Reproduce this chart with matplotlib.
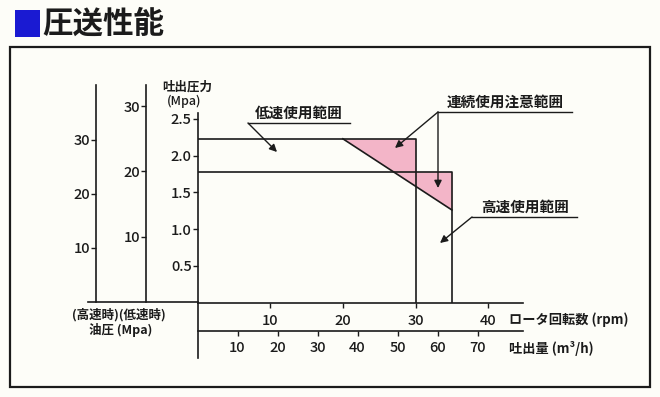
import numpy as np
import matplotlib
matplotlib.use("Agg")
import matplotlib.pyplot as plt
from matplotlib.patches import Rectangle

plt.rcParams['font.family'] = ['Noto Sans CJK JP', 'DejaVu Sans']

# ---------------- data ----------------
title = "圧送性能"
rpm_ticks = [10, 20, 30, 40]
flow_ticks = [10, 20, 30, 40, 50, 60, 70]
pressure_ticks = [0.5, 1.0, 1.5, 2.0, 2.5]
oil_high_ticks = [10, 20, 30]
oil_low_ticks = [10, 20, 30]

low_speed_rpm = [0, 30, 30]          # 低速使用範囲 boundary
low_speed_p = [2.23, 2.23, 0]
high_speed_rpm = [0, 35, 35]         # 高速使用範囲 boundary
high_speed_p = [1.78, 1.78, 0]
caution_rpm = [20, 35]               # 連続使用注意 boundary line
caution_p = [2.23, 1.26]

label_low = "低速使用範囲"
label_caution = "連続使用注意範囲"
label_high = "高速使用範囲"

# ---------------- layout helpers ----------------
W, H = 660, 397
def rect(l, t, r, b):
    return [l / W, 1 - b / H, (r - l) / W, (b - t) / H]

ink = '#1b1b1b'
pink = '#F3B5C8'
bg = '#FDFDF8'
lw = 1.2
px = 0.72  # points per pixel

fig = plt.figure(figsize=(6.6, 3.97), dpi=100, facecolor=bg)

# background / decoration axes in pixel units
ax_bg = fig.add_axes([0, 0, 1, 1], zorder=0)
ax_bg.set_xlim(0, W)
ax_bg.set_ylim(H, 0)
ax_bg.axis('off')
ax_bg.add_patch(Rectangle((10, 47), 640, 340, fill=False, lw=1.6, ec=ink))
ax_bg.add_patch(Rectangle((15, 10), 25, 27, color='#1a1ad2', lw=0))
ax_bg.text(42, 24, title, fontsize=22, fontweight='bold', va='center', ha='left', color=ink)

ax_bg.text(187, 87, "吐出圧力", fontsize=9, fontweight='bold', ha='center', va='center', color=ink)
ax_bg.text(184, 101, "(Mpa)", fontsize=9, fontweight='medium', ha='center', va='center', color=ink)
ax_bg.text(119, 315, "(高速時)(低速時)", fontsize=9, fontweight='bold', ha='center', va='center', color=ink)
ax_bg.text(121, 330, "油圧 (Mpa)", fontsize=9, fontweight='bold', ha='center', va='center', color=ink)
ax_bg.text(509, 320, "ロータ回転数 (rpm)", fontsize=9.5, fontweight='bold', ha='left', va='center', color=ink)
ax_bg.text(509, 349, "吐出量 (m³/h)", fontsize=9.5, fontweight='bold', ha='left', va='center', color=ink)

tick_kw = dict(direction='out', length=5 * px, width=1.0, colors=ink, labelsize=10.5, labelcolor=ink)

def style_ticklabels(a):
    for t in a.get_xticklabels() + a.get_yticklabels():
        t.set_fontweight('medium')

# ---------------- main pressure chart ----------------
x0, x1, y0, ytop = 197.5, 523, 302.5, 113
rpm_px = 7.27
p_px = 73.4
ax = fig.add_axes(rect(x0, ytop, x1, y0), zorder=2)
ax.patch.set_alpha(0)
ax.set_xlim(0, (x1 - x0) / rpm_px)
ax.set_ylim(0, (y0 - ytop) / p_px)
for s in ['top', 'right']:
    ax.spines[s].set_visible(False)
for s in ['left', 'bottom']:
    ax.spines[s].set_linewidth(lw)
    ax.spines[s].set_color(ink)
ax.set_xticks(rpm_ticks)
ax.set_xticklabels([str(v) for v in rpm_ticks])
ax.set_yticks(pressure_ticks)
ax.set_yticklabels([f"{v:.1f}" for v in pressure_ticks])
ax.tick_params(axis='x', pad=5, **tick_kw)
ax.tick_params(axis='y', pad=0.5, **tick_kw)
style_ticklabels(ax)

# pink caution areas
xi = np.interp(high_speed_p[0], caution_p[::-1], caution_rpm[::-1])
xa = np.array([caution_rpm[0], low_speed_rpm[1]])
ax.fill_between(xa, np.interp(xa, caution_rpm, caution_p), low_speed_p[0], color=pink, lw=0, zorder=1)
xb = np.array([xi, high_speed_rpm[1]])
ax.fill_between(xb, np.interp(xb, caution_rpm, caution_p), high_speed_p[0], color=pink, lw=0, zorder=1)

ax.plot(low_speed_rpm, low_speed_p, color=ink, lw=lw, zorder=3)
ax.plot(high_speed_rpm, high_speed_p, color=ink, lw=lw, zorder=3)
ax.plot(caution_rpm, caution_p, color=ink, lw=lw, zorder=3)

def d(xp, yp):
    return ((xp - x0) / rpm_px, (y0 - yp) / p_px)

arrow = dict(arrowstyle='-|>', lw=1.0, color=ink, mutation_scale=11, shrinkA=0, shrinkB=0)
lbl = dict(fontsize=10.5, fontweight='bold', ha='center', va='bottom', color=ink, clip_on=False)

def callout(text, ux0, ux1, uy, tips):
    a, b = d(ux0, uy), d(ux1, uy)
    ax.plot([a[0], b[0]], [a[1], b[1]], color=ink, lw=1.0, clip_on=False)
    ax.text((a[0] + b[0]) / 2, a[1] + 2 / p_px, text, **lbl)
    for t in tips:
        ax.annotate('', xy=d(*t), xytext=a, arrowprops=arrow, annotation_clip=False)

callout(label_low, 248, 350, 123, [(277, 152)])
callout(label_caution, 438, 572, 112, [(395, 148), (438, 188)])
callout(label_high, 472, 577, 217, [(440, 243)])

# ---------------- oil pressure axes ----------------
base_hi = 301.7
ax_hi = fig.add_axes(rect(88, 85, x0, base_hi), zorder=1)
ax_hi.patch.set_alpha(0)
ax_hi.set_ylim(0, (base_hi - 85) / 5.4)
ax_hi.set_xlim(0, 1)
ax_hi.spines['left'].set_position(('axes', (96 - 88) / (x0 - 88)))
for s in ['top', 'right']:
    ax_hi.spines[s].set_visible(False)
for s in ['left', 'bottom']:
    ax_hi.spines[s].set_linewidth(lw)
    ax_hi.spines[s].set_color(ink)
ax_hi.set_xticks([])
ax_hi.set_yticks(oil_high_ticks)
ax_hi.set_yticklabels([str(v) for v in oil_high_ticks])
ax_hi.tick_params(axis='y', pad=0.5, **tick_kw)
style_ticklabels(ax_hi)

ax_lo = fig.add_axes(rect(146, 85, x0, 302), zorder=1)
ax_lo.patch.set_alpha(0)
ax_lo.set_ylim(0, (302 - 85) / 6.53)
for s in ['top', 'right', 'bottom']:
    ax_lo.spines[s].set_visible(False)
ax_lo.spines['left'].set_linewidth(lw)
ax_lo.spines['left'].set_color(ink)
ax_lo.set_xticks([])
ax_lo.set_yticks(oil_low_ticks)
ax_lo.set_yticklabels([str(v) for v in oil_low_ticks])
ax_lo.tick_params(axis='y', pad=0.5, **tick_kw)
style_ticklabels(ax_lo)

# ---------------- flow axis ----------------
ax_fl = fig.add_axes(rect(x0, y0, x1, 358), zorder=1)
ax_fl.patch.set_alpha(0)
ax_fl.set_xlim(0, (x1 - x0) / 4.0)
ax_fl.set_ylim(0, 1)
ax_fl.spines['bottom'].set_position(('axes', (358 - 331) / (358 - y0)))
for s in ['top', 'right']:
    ax_fl.spines[s].set_visible(False)
for s in ['left', 'bottom']:
    ax_fl.spines[s].set_linewidth(lw)
    ax_fl.spines[s].set_color(ink)
ax_fl.set_yticks([])
ax_fl.set_xticks(flow_ticks)
ax_fl.set_xticklabels([str(v) for v in flow_ticks])
ax_fl.tick_params(axis='x', pad=3.5, **tick_kw)
style_ticklabels(ax_fl)

fig.savefig("out.png", dpi=100, facecolor=bg)
